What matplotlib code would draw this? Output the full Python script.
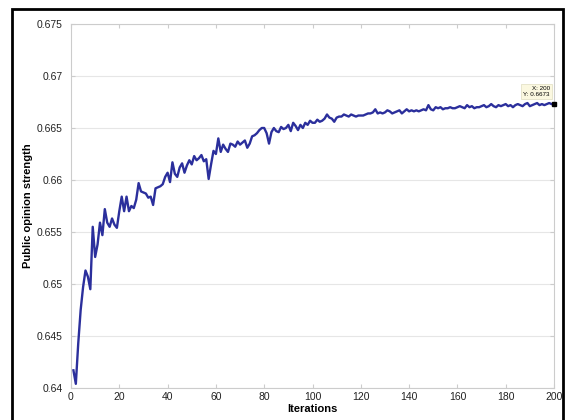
import matplotlib as mpl
mpl.use('Agg')

import matplotlib.pyplot as plt
from matplotlib.patches import Rectangle

plt.rcParams['font.family'] = ['Liberation Sans', 'DejaVu Sans']

# public opinion strength per iteration
strength = [
  0.6417, 0.6404, 0.6443, 0.6475, 0.6497, 0.6513, 0.6507, 0.6495, 0.6555, 0.6526,
  0.6538, 0.6559, 0.6547, 0.6572, 0.6559, 0.6555, 0.6563, 0.6557, 0.6554, 0.6570,
  0.6584, 0.6570, 0.6584, 0.6570, 0.6575, 0.6573, 0.6581, 0.6597, 0.6589, 0.6588,
  0.6587, 0.6583, 0.6584, 0.6576, 0.6592, 0.6593, 0.6594, 0.6596, 0.6603, 0.6607,
  0.6598, 0.6617, 0.6606, 0.6603, 0.6612, 0.6616, 0.6607, 0.6614, 0.6619, 0.6615,
  0.6623, 0.6619, 0.6621, 0.6624, 0.6618, 0.6620, 0.6601, 0.6615, 0.6628, 0.6625,
  0.6640, 0.6627, 0.6634, 0.6630, 0.6627, 0.6635, 0.6634, 0.6632, 0.6637, 0.6634,
  0.6636, 0.6638, 0.6631, 0.6635, 0.6642, 0.6643, 0.6645, 0.6648, 0.6650, 0.6650,
  0.6645, 0.6635, 0.6646, 0.6650, 0.6647, 0.6646, 0.6651, 0.6649, 0.6650, 0.6653,
  0.6647, 0.6655, 0.6652, 0.6648, 0.6653, 0.6650, 0.6655, 0.6653, 0.6657, 0.6655,
  0.6655, 0.6658, 0.6656, 0.6657, 0.6659, 0.6663, 0.6660, 0.6659, 0.6656, 0.6660,
  0.6661, 0.6661, 0.6663, 0.6662, 0.6661, 0.6663, 0.6662, 0.6661, 0.6662, 0.6662,
  0.6662, 0.6663, 0.6664, 0.6664, 0.6665, 0.6668, 0.6664, 0.6665, 0.6664, 0.6665,
  0.6667, 0.6666, 0.6664, 0.6665, 0.6666, 0.6667, 0.6664, 0.6666, 0.6668, 0.6666,
  0.6667, 0.6666, 0.6667, 0.6666, 0.6667, 0.6668, 0.6667, 0.6672, 0.6668, 0.6667,
  0.6670, 0.6669, 0.6670, 0.6668, 0.6669, 0.6669, 0.6670, 0.6669, 0.6669, 0.6670,
  0.6671, 0.6670, 0.6669, 0.6672, 0.6670, 0.6671, 0.6669, 0.6670, 0.6670, 0.6671,
  0.6672, 0.6670, 0.6671, 0.6673, 0.6671, 0.6670, 0.6672, 0.6671, 0.6672, 0.6673,
  0.6671, 0.6672, 0.6670, 0.6672, 0.6673, 0.6672, 0.6671, 0.6673, 0.6674, 0.6671,
  0.6672, 0.6673, 0.6674, 0.6672, 0.6673, 0.6672, 0.6673, 0.6674, 0.6673, 0.6673,
]
iterations = list(range(1, len(strength) + 1))

xticks = [0, 20, 40, 60, 80, 100, 120, 140, 160, 180, 200]
yticks = [0.64, 0.645, 0.65, 0.655, 0.66, 0.665, 0.67, 0.675]
ytick_labels = ['0.64', '0.645', '0.65', '0.655', '0.66', '0.665', '0.67', '0.675']

fig = plt.figure(figsize=(5.67, 4.2), dpi=100)
ax = fig.add_axes([71/567, 1 - 388/420, 483/567, 364/420])

ax.plot(iterations, strength, color='#2b2f9c', lw=1.7)

ax.set_xlim(0, 200)
ax.set_ylim(0.64, 0.675)
ax.set_xticks(xticks)
ax.set_yticks(yticks)
ax.set_yticklabels(ytick_labels)
ax.grid(axis='y', color='#e6e6e6', lw=0.8)
ax.set_axisbelow(True)
ax.tick_params(direction='in', length=3, color='#cccccc', labelsize=7.5,
               labelcolor='#222222', top=True, right=True)
ax.tick_params(axis='x', pad=3)
ax.tick_params(axis='y', pad=6)
for s in ax.spines.values():
  s.set_color('#cccccc')
  s.set_linewidth(0.8)

ax.set_xlabel('Iterations', fontsize=8, fontweight='bold', labelpad=1)
ax.set_ylabel('Public opinion strength', fontsize=8, fontweight='bold', labelpad=3)

# data tip at the last point
ax.plot([iterations[-1]], [strength[-1]], marker='s', ms=3.5, color='black',
        clip_on=False, zorder=10)
ax.annotate('X: 200\nY: 0.6673', xy=(iterations[-1], strength[-1]),
            xytext=(-3, 5), textcoords='offset points', ha='right', va='bottom',
            fontsize=4.5, linespacing=1.3,
            bbox=dict(boxstyle='square,pad=0.3', fc='#fbf8e0', ec='#e0ddc0', lw=0.5))

# black frame around the figure
fig.patches.append(Rectangle((12/567, -0.05), 551/567, 1 - 9/420 + 0.05,
                             transform=fig.transFigure, fill=False,
                             ec='black', lw=2))

fig.savefig('out.png', dpi=100)
